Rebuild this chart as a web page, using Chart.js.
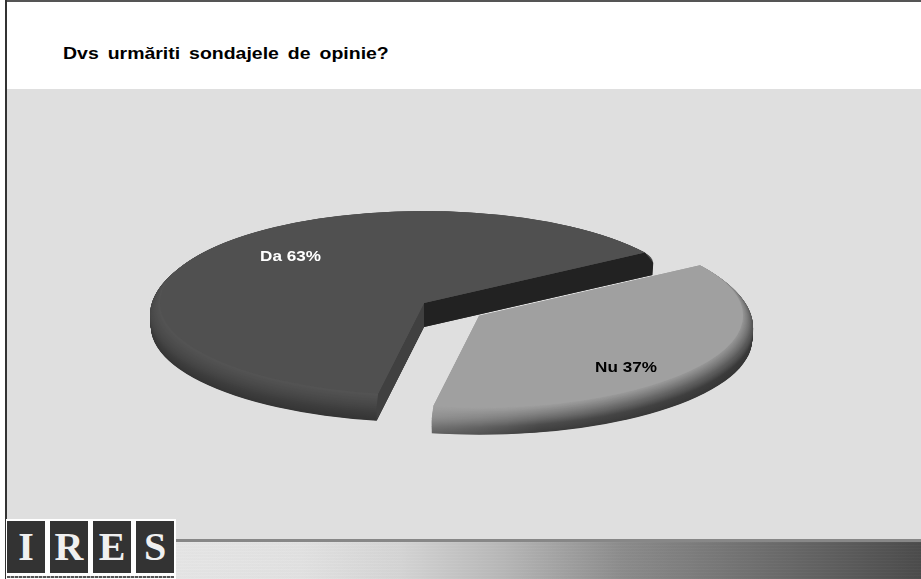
<!DOCTYPE html>
<html lang="ro">
<head>
    <meta charset="UTF-8">
    <title>Dvs urmăriti sondajele de opinie?</title>
    <script src="https://cdn.jsdelivr.net/npm/chart.js"></script>
    <style>
        html, body { margin: 0; padding: 0; background: #fff; overflow: hidden; }
        .page { position: relative; width: 921px; height: 579px; overflow: hidden; background: #fff; font-family: "Liberation Sans", Arial, sans-serif; }
        .frame-top { position: absolute; left: 5px; top: 0; right: 0; height: 2px; background: #555; }
        .frame-left { position: absolute; left: 5px; top: 0; width: 2px; bottom: 0; background: #333; }
        .panel { position: absolute; left: 7px; top: 89px; right: 0; height: 450px; background: #dfdfdf; }
        .title { position: absolute; left: 63px; top: 45px; font-size: 16.5px; line-height: 16px; font-weight: bold; color: #000; word-spacing: 3px; white-space: nowrap; transform: scaleX(1.18); transform-origin: left center; }
        .bar-line { position: absolute; left: 175px; top: 539px; right: 0; height: 3px; background: #878787; }
        .bar { position: absolute; left: 175px; top: 542px; right: 0; bottom: 0;
            background:
                repeating-linear-gradient(0deg, rgba(255,255,255,0.02) 0 1px, rgba(0,0,0,0.01) 1px 3px),
                linear-gradient(90deg, #e6e6e6 0%, #e2e2e2 17%, #d5d5d5 30%, #b8b8b8 44%, #8c8c8c 60%, #6c6c6c 80%, #4c4c4c 100%); }
        .logo { position: absolute; left: 6px; top: 519px; width: 170px; height: 60px; background: #fff; }
        .logo span { position: absolute; top: 2px; width: 38px; height: 52px; background: #333; color: #f0f0f0; font: bold 40px/52px "Liberation Serif", serif; text-align: center; }
        .logo i { position: absolute; left: 1px; top: 57px; width: 167px; height: 2px; background: repeating-linear-gradient(90deg, #555 0 3px, #bbb 3px 4px); }
        canvas { position: absolute; left: 0; top: 0; }
    </style>
</head>
<body>
    <div class="page">
        <div class="panel"></div>
        <div class="frame-top"></div>
        <div class="frame-left"></div>
        <div class="title">Dvs urmăriti sondajele de opinie?</div>
        <div class="bar-line"></div>
        <div class="bar"></div>
        <div class="logo">
            <span style="left:1px">I</span><span style="left:44px">R</span><span style="left:87px">E</span><span style="left:130px">S</span>
            <i></i>
        </div>
        <canvas id="pieChart" width="921" height="579"></canvas>
    </div>

    <script>
        const answers = ['Da', 'Nu'];
        const percents = [63, 37];
        const sliceColors = ['#505050', '#a0a0a0'];
        const pulledOut = [0, 0.25];
        const labelColors = ['#ffffff', '#000000'];

        // flattened pie geometry, in page pixels
        const pieX = 424, pieY = 303;
        const faceRx = 264, faceRy = 92;
        const rimRx = 274, rimLowRx = 273;
        const bulge = 12, depth = 24;

        // rim shades from the top of the edge to the bottom, at the left / middle / right of a slice
        const rimShades = [
            [[84, 72, 60, 52], [84, 72, 60, 52], [80, 68, 58, 50]],
            [[160, 146, 122, 100], [160, 118, 76, 60], [150, 90, 56, 52]]
        ];
        const cutWalls = [['#404040', '#222222'], null];
        const labelSpots = [[290.5, 256.5], [626, 367.5]];

        function grey(v) {
            return 'rgb(' + v + ',' + v + ',' + v + ')';
        }

        function shadeAt(stops, t) {
            const pos = t * (stops.length - 1);
            const i = Math.min(Math.floor(pos), stops.length - 2);
            return Math.round(stops[i] + (stops[i + 1] - stops[i]) * (pos - i));
        }

        function sliceCenter(arc, i) {
            const mid = (arc.startAngle + arc.endAngle) / 2;
            return {
                x: pieX + Math.cos(mid) * pulledOut[i] * faceRx,
                y: pieY + Math.sin(mid) * pulledOut[i] * faceRy
            };
        }

        // rounded edge profile: swells out from the face, then tucks back in
        function rimRadius(d) {
            if (d < bulge) return faceRx + (rimRx - faceRx) * Math.sin(d / bulge * Math.PI / 2);
            const k = (d - bulge) / (depth - bulge);
            return rimRx - (rimRx - rimLowRx) * k * k;
        }

        // stacks thin copies of the slice to build the edge
        function drawRim(ctx, arc, i, c) {
            const left = c.x - rimRx * 0.2, right = c.x + rimRx;
            for (let d = depth; d >= 0; d -= 0.5) {
                const rx = rimRadius(d);
                const ry = rx * faceRy / faceRx;
                const t = d / depth;
                const g = ctx.createLinearGradient(left, 0, right, 0);
                g.addColorStop(0, grey(shadeAt(rimShades[i][0], t)));
                g.addColorStop(0.35, grey(shadeAt(rimShades[i][1], t)));
                g.addColorStop(1, grey(shadeAt(rimShades[i][2], t)));
                ctx.fillStyle = g;
                ctx.beginPath();
                ctx.moveTo(c.x, c.y + d);
                ctx.ellipse(c.x, c.y + d, rx, ry, 0, arc.startAngle, arc.endAngle);
                ctx.closePath();
                ctx.fill();
            }
        }

        // flat walls along the two cut edges of a slice
        function drawWalls(ctx, arc, i, c) {
            if (!cutWalls[i]) return;
            const yScale = faceRy / faceRx;
            [arc.startAngle, arc.endAngle].forEach((a, n) => {
                const cos = Math.cos(a), sin = Math.sin(a);
                ctx.fillStyle = cutWalls[i][n];
                ctx.beginPath();
                ctx.moveTo(c.x, c.y);
                ctx.lineTo(c.x + cos * faceRx, c.y + sin * faceRy);
                ctx.lineTo(c.x + cos * rimRx, c.y + sin * rimRx * yScale + bulge);
                ctx.lineTo(c.x + cos * rimLowRx, c.y + sin * rimLowRx * yScale + depth);
                ctx.lineTo(c.x, c.y + depth);
                ctx.closePath();
                ctx.fill();
            });
        }

        const tiltedPie = {
            id: 'tiltedPie',
            beforeDatasetDraw(chart) {
                const ctx = chart.ctx;
                const arcs = chart.getDatasetMeta(0).data;
                arcs.forEach((arc, i) => {
                    const c = sliceCenter(arc, i);
                    drawRim(ctx, arc, i, c);
                    drawWalls(ctx, arc, i, c);

                    // top face is the library's own arc, squashed onto the ellipse
                    ctx.save();
                    ctx.translate(c.x, c.y);
                    ctx.scale(faceRx / arc.outerRadius, faceRy / arc.outerRadius);
                    ctx.translate(-arc.x, -arc.y);
                    arc.draw(ctx);
                    ctx.restore();

                    // slightly wide lettering for the value labels
                    ctx.save();
                    ctx.translate(labelSpots[i][0], labelSpots[i][1]);
                    ctx.scale(1.18, 1);
                    ctx.fillStyle = labelColors[i];
                    ctx.font = 'bold 14.5px "Liberation Sans", Arial, sans-serif';
                    ctx.textAlign = 'center';
                    ctx.textBaseline = 'middle';
                    ctx.fillText(answers[i] + ' ' + percents[i] + '%', 0, 0);
                    ctx.restore();
                });
                return false;
            }
        };

        new Chart(document.getElementById('pieChart'), {
            type: 'pie',
            data: {
                labels: answers,
                datasets: [{
                    data: percents,
                    backgroundColor: sliceColors,
                    borderWidth: 0
                }]
            },
            options: {
                responsive: false,
                animation: false,
                rotation: 190,
                layout: { padding: 0 },
                plugins: {
                    legend: { display: false },
                    tooltip: { enabled: false }
                }
            },
            plugins: [tiltedPie]
        });
    </script>
</body>
</html>
